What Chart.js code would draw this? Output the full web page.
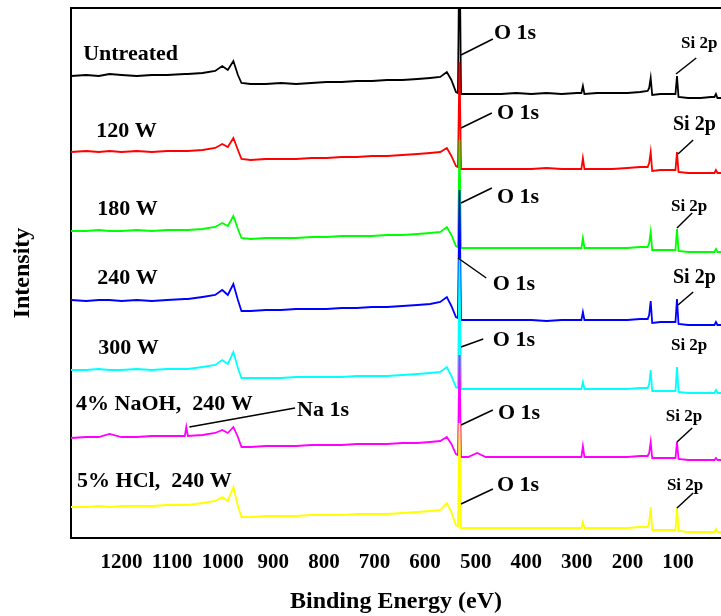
<!DOCTYPE html>
<html>
<head>
<meta charset="utf-8">
<script src="https://cdn.jsdelivr.net/npm/chart.js@4/dist/chart.umd.min.js"></script>
<style>
html,body{margin:0;padding:0;background:#fff;}
canvas{display:block;}
</style>
</head>
<body>
<canvas id="c" width="721" height="616"></canvas>
<script>
// Binding energies (eV) at which the spectra were read
const energies = [1300,1270,1245,1224,1200,1170,1140,1110,1075,1072,
  1069,1040,1015,1001,990,979,970,963,945,915,
  885,855,825,795,765,735,705,675,645,615,
  590,570,557,548,539,535,532,529,515,497,
  480,450,420,390,360,330,300,291,288,285,
  260,230,200,175,160,157,154,151,135,115,
  105,102,99,80,55,35,28,25,22,15];

// Intensity (a.u., stacked with offsets)
const untreated = [462,463,462,464,463,462,463,463,464,464,
  464,465,467,472,468,477,463,455,454,454,
  455,454,455,456,456,457,457,458,458,459,
  460,461,466,458,446,445,608,444,444,444,
  444,444,445,444,445,444,445,445,452,444,
  445,445,445,446,447,450,460,443,444,444,
  444,462,441,440,440,441,441,444,440,440];
const w120 = [386,387,386,387,386,387,386,387,387,387,
  387,388,390,394,391,400,388,379,378,379,
  379,379,380,380,381,381,382,382,383,384,
  385,386,390,382,372,371,476,369,369,369,
  369,369,369,369,370,369,369,369,380,369,
  369,369,370,371,371,375,386,367,368,368,
  368,386,366,365,365,365,365,368,365,365];
const w180 = [307,307,308,307,307,308,307,308,308,308,
  308,309,311,315,312,322,309,300,299,300,
  300,300,301,301,302,302,302,303,303,304,
  305,306,311,303,292,291,398,290,290,290,
  290,290,290,290,290,290,290,290,300,290,
  290,290,290,291,291,295,306,288,288,288,
  288,309,287,286,286,286,286,289,286,286];
const w240 = [238,237,238,238,237,238,237,238,239,239,
  239,241,243,248,243,254,238,227,227,228,
  228,229,229,229,230,230,231,231,232,233,
  234,236,241,232,221,220,348,218,218,218,
  218,218,218,218,217,218,218,218,226,218,
  218,218,218,219,219,223,237,215,216,216,
  216,239,214,213,213,213,213,216,213,213];
const w300 = [168,168,169,168,168,169,168,169,169,169,
  169,171,173,178,174,186,170,160,160,160,
  160,161,161,161,161,162,162,162,163,164,
  165,166,171,162,151,150,280,149,149,149,
  149,149,149,149,149,149,149,149,156,149,
  149,149,149,150,150,154,168,147,147,147,
  147,171,146,145,145,145,145,148,145,145];
const naoh240 = [100,101,101,104,101,101,102,102,102,111,
  102,103,105,108,105,111,101,91,91,92,
  92,92,93,93,93,94,94,94,95,95,
  96,97,101,94,84,83,183,81,81,85,
  81,81,81,81,81,81,81,81,92,81,
  81,81,81,82,82,85,96,80,80,80,
  80,96,79,78,78,78,78,80,78,78];
const hcl240 = [31,31,32,31,32,32,32,33,33,33,
  33,35,37,41,37,51,32,21,21,22,
  22,22,23,23,23,24,24,24,25,26,
  27,28,35,26,13,12,115,10,10,10,
  10,10,10,10,10,10,10,10,16,10,
  10,10,10,11,11,16,31,8,8,8,
  8,31,7,6,6,6,6,9,6,6];

const seriesNames = ['Untreated','120 W','180 W','240 W','300 W','4% NaOH,  240 W','5% HCl,  240 W'];
const seriesValues = [untreated,w120,w180,w240,w300,naoh240,hcl240];
const tickValues = [100,200,300,400,500,600,700,800,900,1000,1100,1200];

// Label anchors in data coordinates [energy, intensity]
const nameAnchors = [[1276,484],[1250,407],[1248,329],[1248,260],[1246,190],[1290,134],[1288,57]];
const o1sText = [[464,505],[458,425],[458,341],[466,254],[466,198],[456,125],[458,53]];
const o1sLead = [[529,483,466,499],[529,410,468,425],[529,335,468,350],[535,280,479,260],[529,191,485,199],[529,113,466,128],[529,34,466,49]];
const si2pText = [[94,494,17],[110,413,20],[114,331,17],[110,260,20],[114,192,17],[124,121,17],[122,52,17]];
const si2pLead = [[104,464,64,480],[100,384,70,398],[102,310,72,325],[100,233,70,246],null,[102,96,72,110],[102,30,70,45]];
const na1s = {text:'Na 1s', at:[853,128], lead:[1066,111,857,130]};

const colors = ['#000000','#ff0000','#00ff00','#0000ff','#00ffff','#ff00ff','#ffff00'];
const SERIF = "'Liberation Serif','Times New Roman',serif";

const datasets = seriesValues.map((vals,i)=>({
  label: seriesNames[i],
  data: energies.map((e,j)=>({x:e,y:vals[j]})),
  borderColor: colors[i],
  backgroundColor: colors[i],
  borderWidth: 1.8,
  pointRadius: 0,
  tension: 0,
  order: seriesValues.length - i
}));

const annot = {
  id:'annot',
  afterDatasetsDraw(chart){
    const {ctx, chartArea, scales:{x,y}} = chart;
    const px = e => x.getPixelForValue(e);
    const py = v => y.getPixelForValue(v);
    ctx.save();
    // top frame line
    ctx.strokeStyle = '#000'; ctx.lineWidth = 2;
    ctx.beginPath(); ctx.moveTo(chartArea.left, chartArea.top); ctx.lineTo(chartArea.right, chartArea.top); ctx.stroke();
    // leader lines
    ctx.lineWidth = 1.5;
    const lead = l => { if(!l) return; ctx.beginPath(); ctx.moveTo(px(l[0]),py(l[1])); ctx.lineTo(px(l[2]),py(l[3])); ctx.stroke(); };
    o1sLead.forEach(lead); si2pLead.forEach(lead); lead(na1s.lead);
    // texts
    ctx.fillStyle = '#000'; ctx.textAlign = 'left'; ctx.textBaseline = 'middle';
    ctx.font = 'bold 22px ' + SERIF;
    nameAnchors.forEach((a,i)=>ctx.fillText(seriesNames[i], px(a[0]), py(a[1])));
    o1sText.forEach(a=>ctx.fillText('O 1s', px(a[0]), py(a[1])));
    ctx.fillText(na1s.text, px(na1s.at[0]), py(na1s.at[1]));
    si2pText.forEach(a=>{ ctx.font = 'bold '+a[2]+'px '+SERIF; ctx.fillText('Si 2p', px(a[0]), py(a[1])); });
    ctx.restore();
  }
};

new Chart(document.getElementById('c'), {
  type:'line',
  data:{datasets},
  options:{
    responsive:false,
    animation:false,
    devicePixelRatio:1,
    layout:{padding:{top:8,left:0,right:0,bottom:0}},
    plugins:{legend:{display:false},tooltip:{enabled:false}},
    scales:{
      x:{
        type:'linear', reverse:true, min:15, max:1300,
        afterBuildTicks: ax => { ax.ticks = tickValues.map(v=>({value:v})); },
        afterFit: s => { s.height = 78; },
        grid:{display:false, drawTicks:false},
        border:{display:true, color:'#000', width:2},
        ticks:{color:'#000', padding:12, maxRotation:0, autoSkip:false,
          callback: v => String(v),
          font:{family:SERIF, size:21, weight:'bold'}},
        title:{display:true, text:'Binding Energy (eV)', color:'#000', padding:{top:1,bottom:0}, font:{family:SERIF, size:24, weight:'bold'}}
      },
      y:{
        type:'linear', min:0, max:530,
        afterFit: s => { s.width = 71; },
        grid:{display:false, drawTicks:false},
        border:{display:true, color:'#000', width:2},
        ticks:{display:false},
        title:{display:true, text:'Intensity', color:'#000', padding:{top:8,bottom:0}, font:{family:SERIF, size:24, weight:'bold'}}
      }
    }
  },
  plugins:[annot]
});
</script>
</body>
</html>
